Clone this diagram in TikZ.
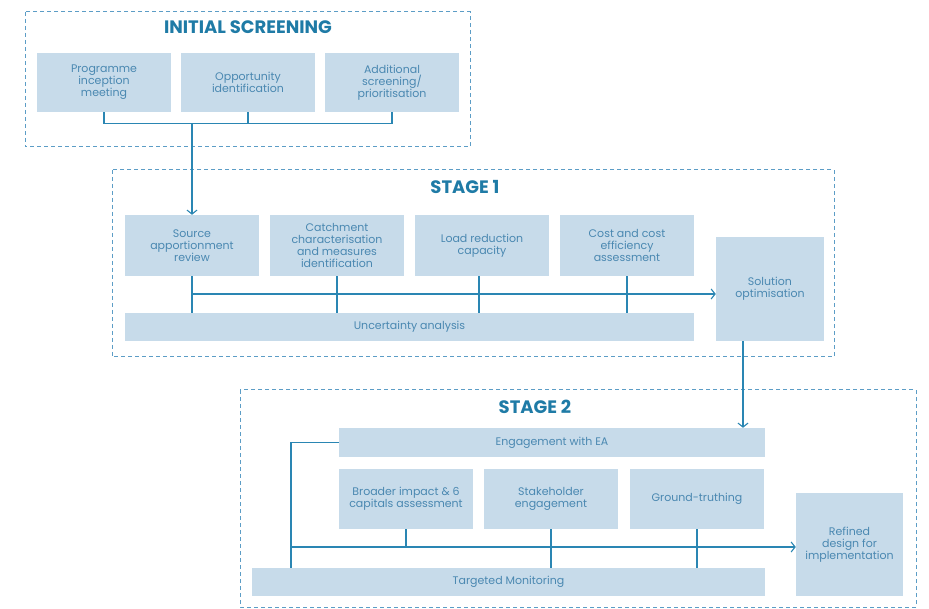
\documentclass[tikz,border=0pt]{standalone}
\usepackage{fontspec}
\setmainfont{Poppins}
\usetikzlibrary{arrows.meta}
\definecolor{boxfill}{HTML}{C7DBEA}
\definecolor{boxtext}{HTML}{4A88B1}
\definecolor{linkblue}{HTML}{2A86B3}
\definecolor{titleblue}{HTML}{1F7BA6}
\definecolor{framedash}{HTML}{5C9DC6}
\newcommand{\boxfont}{\fontsize{11}{12}\selectfont}

\begin{document}
\begin{tikzpicture}[x=1pt, y=-1pt,
  box/.style={fill=boxfill, text=boxtext, align=center, inner sep=0pt, font=\boxfont},
  stagebox/.style={draw=framedash, dashed, dash pattern=on 4pt off 3pt, line width=1pt},
  stagetitle/.style={text=titleblue, font=\fontsize{18}{20}\selectfont\bfseries},
  link/.style={draw=linkblue, line width=1.1pt},
  arrow/.style={link, -{Straight Barb[length=4pt, width=10pt, line width=1.1pt]}}]
  \useasboundingbox (0,0) rectangle (929,609);
  % initial screening
  \draw[stagebox] (25,12) rectangle (470,147);
  \node[stagetitle] (isTitle) at (248,27) {INITIAL SCREENING};
  \node[box, minimum width=134pt, minimum height=59pt] (prog) at (104,82.5) {Programme\\inception\\meeting};
  \node[box, minimum width=134pt, minimum height=59pt] (opp) at (248,82.5) {Opportunity\\identification};
  \node[box, minimum width=134pt, minimum height=59pt] (addl) at (392,82.5) {Additional\\screening/\\prioritisation};
  \draw[link] (prog.south) -- ++(0,11) -| (addl.south);
  \draw[link] (opp.south) -- ++(0,11);
  \coordinate (isJoin) at (192,123);
  % stage 1
  \draw[stagebox] (112,170) rectangle (834,357);
  \node[stagetitle] (s1Title) at (465,187) {STAGE 1};
  \node[box, minimum width=134pt, minimum height=61pt] (src) at (192,245.5) {Source\\apportionment\\review};
  \node[box, minimum width=134pt, minimum height=61pt] (catch) at (337,245.5) {Catchment\\characterisation\\and measures\\identification};
  \node[box, minimum width=134pt, minimum height=61pt] (load) at (482,245.5) {Load reduction\\capacity};
  \node[box, minimum width=134pt, minimum height=61pt] (cost) at (627,245.5) {Cost and cost\\efficiency\\assessment};
  \node[box, minimum width=108pt, minimum height=104pt] (sol) at (770,289) {Solution\\optimisation};
  \node[box, minimum width=569pt, minimum height=28pt] (unc) at (409.5,327) {Uncertainty analysis};
  \draw[arrow] (isJoin) -- (src.north);
  \draw[arrow] (src.south |- 0,294) -- (sol.west |- 0,294);
  \foreach \n in {src, catch, cost}
    \draw[link] (\n.south) -- (\n.south |- unc.north);
  \draw[link] ([xshift=-3pt]load.south) -- ([xshift=-3pt]load.south |- unc.north);
  % stage 2
  \draw[stagebox] (240,390) rectangle (916,607);
  \node[stagetitle] (s2Title) at (535,407) {STAGE 2};
  \node[box, minimum width=426pt, minimum height=29pt] (ea) at (552,442.5) {Engagement with EA};
  \node[box, minimum width=134pt, minimum height=60pt] (broad) at (406,499) {Broader impact \& 6\\capitals assessment};
  \node[box, minimum width=134pt, minimum height=60pt] (stake) at (551,499) {Stakeholder\\engagement};
  \node[box, minimum width=134pt, minimum height=60pt] (ground) at (697,499) {Ground-truthing};
  \node[box, minimum width=107pt, minimum height=103pt] (ref) at (849.5,544.5) {Refined\\design for\\implementation};
  \node[box, minimum width=513pt, minimum height=28pt] (tm) at (508.5,582) {Targeted Monitoring};
  \draw[arrow] ([xshift=-27pt]sol.south) -- ([xshift=-27pt]sol.south |- ea.north);
  \coordinate (s2Loop) at (291,442.5);
  \draw[link] (ea.west) -- (s2Loop) -- (s2Loop |- tm.north);
  \draw[arrow] (s2Loop |- 0,547) -- (ref.west |- 0,547);
  \draw[link] (broad.south) -- (broad.south |- 0,547);
  \draw[link] (stake.south) -- (stake.south |- tm.north);
  \draw[link] (ground.south) -- (ground.south |- tm.north);
\end{tikzpicture}
\end{document}
